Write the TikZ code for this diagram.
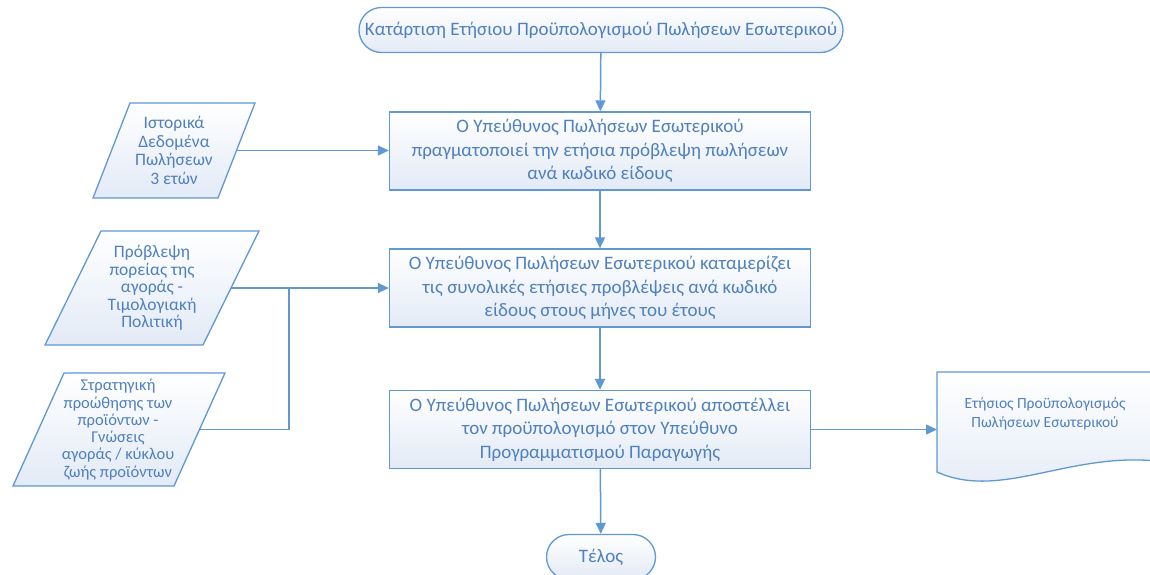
\documentclass[tikz,border=0pt]{standalone}
\usepackage{fontspec}
\setmainfont{Carlito}
\usetikzlibrary{shapes.misc,arrows.meta}
\definecolor{edge}{RGB}{96,152,210}
\definecolor{ink}{RGB}{80,128,190}
\definecolor{fillbot}{RGB}{226,234,246}
\begin{document}
\begin{tikzpicture}[x=1pt,y=-1pt,
  shade/.style={top color=white,bottom color=fillbot},
  outline/.style={draw=edge,line width=1.3pt,shade},
  terminal/.style={outline,rounded rectangle,rounded rectangle arc length=180,
    minimum height=45pt,inner sep=2pt,text=ink,font=\fontsize{19}{23}\selectfont},
  process/.style={outline,rectangle,minimum width=421pt,minimum height=78pt,
    align=center,text=ink,font=\fontsize{19}{23.5}\selectfont},
  datatext/.style={align=center,text=ink,inner sep=0pt},
  flow/.style={draw=edge,line width=1.5pt,-{Triangle[length=11pt,width=10pt]}},
  joint/.style={draw=edge,line width=1.5pt}]
\useasboundingbox (0,0) rectangle (1150,574);
\clip (0,0) rectangle (1150,574);

% terminators and process steps
\node[terminal,minimum width=488pt] (start) at (601,30)
  {Κατάρτιση Ετήσιου Προϋπολογισμού Πωλήσεων Εσωτερικού};
\node[process] (p1) at (600,151)
  {Ο Υπεύθυνος Πωλήσεων Εσωτερικού\\πραγματοποιεί την ετήσια πρόβλεψη πωλήσεων\\ανά κωδικό είδους};
\node[process] (p2) at (600,288)
  {Ο Υπεύθυνος Πωλήσεων Εσωτερικού καταμερίζει\\τις συνολικές ετήσιες προβλέψεις ανά κωδικό\\είδους στους μήνες του έτους};
\node[process] (p3) at (600,429.5)
  {Ο Υπεύθυνος Πωλήσεων Εσωτερικού αποστέλλει\\τον προϋπολογισμό στον Υπεύθυνο\\Προγραμματισμού Παραγωγής};
\node[terminal,minimum width=113pt] (end) at (601,557) {Τέλος};

% input data (parallelograms)
\path[outline] (130,103) -- (255,103) -- (218,198) -- (93,198) -- cycle;
\node[datatext,font=\fontsize{17.5}{18.5}\selectfont] (d1) at (174,150.5)
  {Ιστορικά\\Δεδομένα\\Πωλήσεων\\3 ετών};
\coordinate (d1out) at (236.5,150.5);

\path[outline] (101,231) -- (259,231) -- (203,345) -- (45,345) -- cycle;
\node[datatext,font=\fontsize{17.5}{17.5}\selectfont] (d2) at (152,288)
  {Πρόβλεψη\\πορείας της\\αγοράς -\\Τιμολογιακή\\Πολιτική};
\coordinate (d2out) at (231,288);

\path[outline] (64,373) -- (225,373) -- (174,486) -- (13,486) -- cycle;
\node[datatext,font=\fontsize{16.5}{17.3}\selectfont] (d3) at (118,429.5)
  {Στρατηγική\\προώθησης των\\προϊόντων -\\Γνώσεις\\αγοράς / κύκλου\\ζωής προϊόντων};
\coordinate (d3out) at (199.5,429.5);
\coordinate (merge) at (289,288);

% output document
\path[outline] (937,372) -- (1200,372) -- (1200,470)
  .. controls (1090,435) and (1010,505) .. (937,472) -- cycle;
\node[datatext,font=\fontsize{15.5}{18.5}\selectfont] (doc) at (1045,414)
  {Ετήσιος Προϋπολογισμός\\Πωλήσεων Εσωτερικού};
\coordinate (docin) at (937,429.5);

% connectors
\draw[flow] (start) -- (p1);
\draw[flow] (p1) -- (p2);
\draw[flow] (p2) -- (p3);
\draw[flow] (p3) -- (end);
\draw[flow] (d1out) -- (p1.west |- d1out);
\draw[flow] (d2out) -- (p2.west);
\draw[joint] (d3out) -- (d3out -| merge) -- (merge);
\draw[flow] (p3.east) -- (docin);
\end{tikzpicture}
\end{document}
